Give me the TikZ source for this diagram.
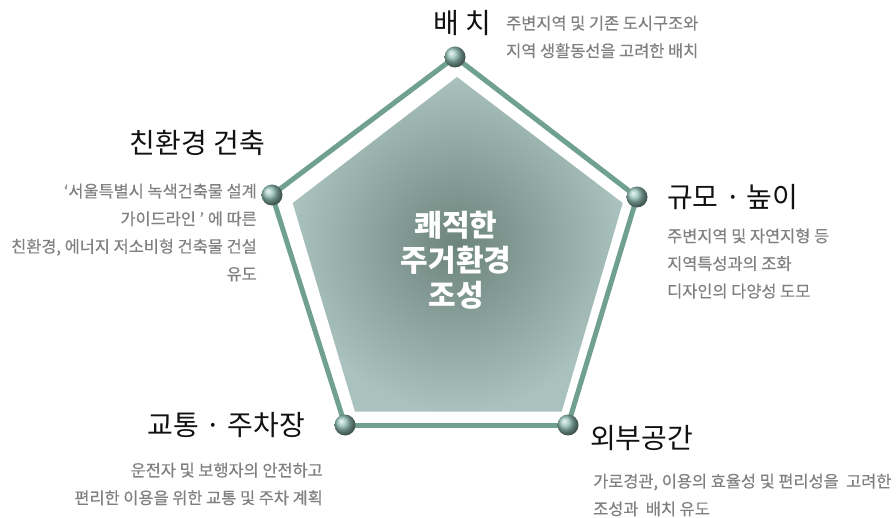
\documentclass[tikz,border=0pt]{standalone}
\usepackage{fontspec}
\setmainfont{Noto Sans CJK KR}
\newfontfamily\descfont[FakeBold=0.4]{Noto Sans CJK KR}
\usetikzlibrary{backgrounds}
\definecolor{rimgreen}{RGB}{112,160,142}
\definecolor{ballcol}{RGB}{145,192,180}
\definecolor{fillin}{RGB}{108,132,124}
\definecolor{fillout}{RGB}{170,194,189}
\definecolor{desctext}{RGB}{128,128,128}
\definecolor{titletext}{RGB}{17,17,17}
\tikzset{
  ball/.style={circle, minimum size=21pt, inner sep=0pt, shading=ball, ball color=ballcol},
  rim/.style={draw=rimgreen, line width=5pt},
  titlelbl/.style={font=\fontsize{28}{32}\selectfont, text=titletext, inner sep=0pt},
  desclbl/.style={font=\descfont\fontsize{16.4}{27.6}\selectfont, text=desctext, inner sep=0pt},
  centerlbl/.style={font=\fontsize{30}{35}\selectfont\bfseries, text=white, align=center, inner sep=0pt}
}
\begin{document}
\begin{tikzpicture}[x=1pt,y=-1pt]
\useasboundingbox (0,0) rectangle (896,518);
% inner gradient pentagon
\shade[inner color=fillin, outer color=fillout]
  (457,77) -- (622.7,203) -- (561.7,411.7) -- (355,411.7) -- (292.7,203) -- cycle;
% spheres
\node[ball] (v1) at (455,57) {};
\node[ball] (v2) at (637,197) {};
\node[ball] (v3) at (568,425) {};
\node[ball] (v4) at (345,425) {};
\node[ball] (v5) at (272,195) {};
\begin{scope}[on background layer]
\draw[rim] (v1.center) -- (v2.center);
\draw[rim] (v2.center) -- (v3.center);
\draw[rim] (v3.center) -- (v4.center);
\draw[rim] (v4.center) -- (v5.center);
\draw[rim] (v5.center) -- (v1.center);
\end{scope}
% center text
\node[centerlbl] (ctr) at (456,260) {쾌적한\\주거환경\\조성};
% titles
\node[titlelbl, anchor=center] (t1) at (462,23) {배 치};
\node[titlelbl, anchor=east] (t2) at (265,143) {친환경 건축};
\node[titlelbl, anchor=west] (t3) at (667,197) {규모 · 높이};
\node[titlelbl, anchor=east] (t4) at (305,425) {교통 · 주차장};
\node[titlelbl, anchor=west] (t5) at (590,438) {외부공간};
% descriptions
\node[desclbl, align=left, anchor=west] (d1) at (506,37) {주변지역 및 기존 도시구조와\\지역 생활동선을 고려한 배치};
\node[desclbl, align=right, anchor=east] (d2) at (257,232.5) {‘서울특별시 녹색건축물 설계\\가이드라인 ’ 에 따른\\친환경, 에너지 저소비형 건축물 건설\\유도};
\node[desclbl, align=left, anchor=west] (d3) at (667,263.5) {주변지역 및 자연지형 등\\지역특성과의 조화\\디자인의 다양성 도모};
\node[desclbl, align=right, anchor=east] (d4) at (323,484) {운전자 및 보행자의 안전하고\\편리한 이용을 위한 교통 및 주차 계획};
\node[desclbl, align=left, anchor=west] (d5) at (593,495) {가로경관, 이용의 효율성 및 편리성을~ 고려한\\조성과~ 배치 유도};
\end{tikzpicture}
\end{document}
